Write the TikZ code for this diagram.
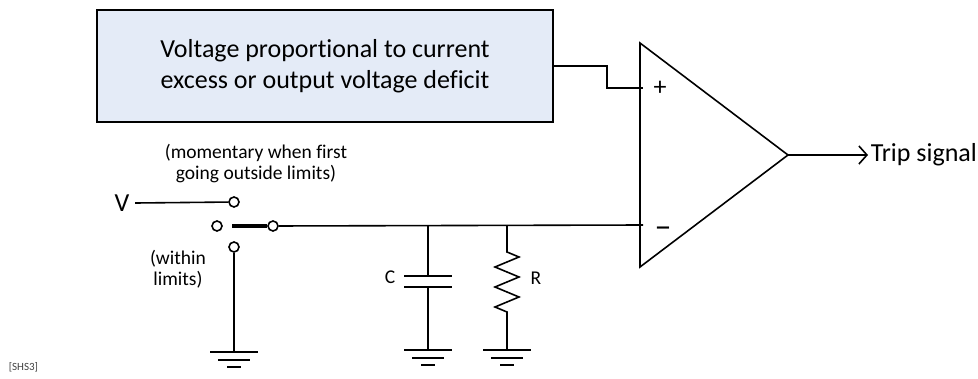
\documentclass[tikz,border=0pt]{standalone}
\usepackage{fontspec}
\setmainfont{Carlito}[Ligatures=NoCommon]
\usetikzlibrary{arrows.meta}
\definecolor{boxfill}{RGB}{228,235,247}
\begin{document}
\begin{tikzpicture}[x=1pt,y=1pt,line width=1.6pt]
	\tikzstyle{every node}+=[inner sep=0pt]
	\tikzstyle{term}=[draw,circle,minimum size=10pt,line width=1.6pt]
	\tikzstyle{big}=[font=\fontsize{26}{31}\selectfont]
	\tikzstyle{small}=[font=\fontsize{19.5}{21}\selectfont]
	\tikzset{ground/.pic={
		\draw (-24,0) -- (24,0);
		\draw (-16,-8) -- (16,-8);
		\draw (-7,-15) -- (7,-15);
	}}
	\useasboundingbox (0,0) rectangle (978,-378);
	% sensing box
	\node [draw,fill=boxfill,minimum width=456pt,minimum height=112pt,align=center,big] (box) at (325,-66) {Voltage proportional to current\\excess or output voltage deficit};
	% comparator
	\draw (640,-43) -- (788,-155) -- (640,-267) -- cycle;
	\coordinate (inp) at (643,-88);
	\coordinate (inm) at (643,-225);
	\coordinate (out) at (788,-155);
	\coordinate (bend) at (607,-88);
	\node [big] (plus) at (660,-88) {+};
	\node [font=\fontsize{34}{34}\selectfont,anchor=base] (minus) at (663,-237) {–};
	\draw (box.east) -| (bend) -- (inp);
	\coordinate (tip) at (868,-155);
	\draw [-{Straight Barb[length=8pt,width=18pt]}] (out) -- (tip);
	\node [big,anchor=west] (trip) at (870,-155) {Trip signal};
	% switch
	\node [big] (v) at (122,-203) {V};
	\node [term] (sv) at (234,-202) {};
	\node [term] (sl) at (217,-226) {};
	\node [term] (sc) at (273,-226) {};
	\node [term] (sw) at (234,-247) {};
	\coordinate (blade) at (232,-226);
	\draw ([xshift=5pt]v.east) -- (sv);
	\draw [line width=3.5pt] (blade) -- (sc.west);
	\draw (sc) -- (inm);
	\draw (sw) -- (234,-352) pic {ground};
	\node [small,align=center] (mom) at (256,-164) {(momentary when first\\going outside limits)};
	\node [small,align=center] (within) at (178,-269) {(within\\limits)};
	% capacitor
	\coordinate (jc) at (428,-226);
	\draw (jc) -- (428,-276);
	\draw (404,-276) -- (452,-276);
	\draw (404,-287) -- (452,-287);
	\draw (428,-287) -- (428,-350) pic {ground};
	\node [small] (c) at (390,-277) {C};
	% resistor
	\coordinate (jr) at (507,-226);
	\draw (jr) -- (507,-252) -- (519,-257) -- (495,-267) -- (519,-277) -- (495,-287) -- (519,-297) -- (495,-307) -- (507,-312) -- (507,-350) pic {ground};
	\node [small] (r) at (536,-278) {R};
	% source tag
	\node [anchor=west,text=black!75,font=\fontsize{11}{13}\selectfont] (tag) at (8,-367) {[SHS3]};
\end{tikzpicture}
\end{document}
